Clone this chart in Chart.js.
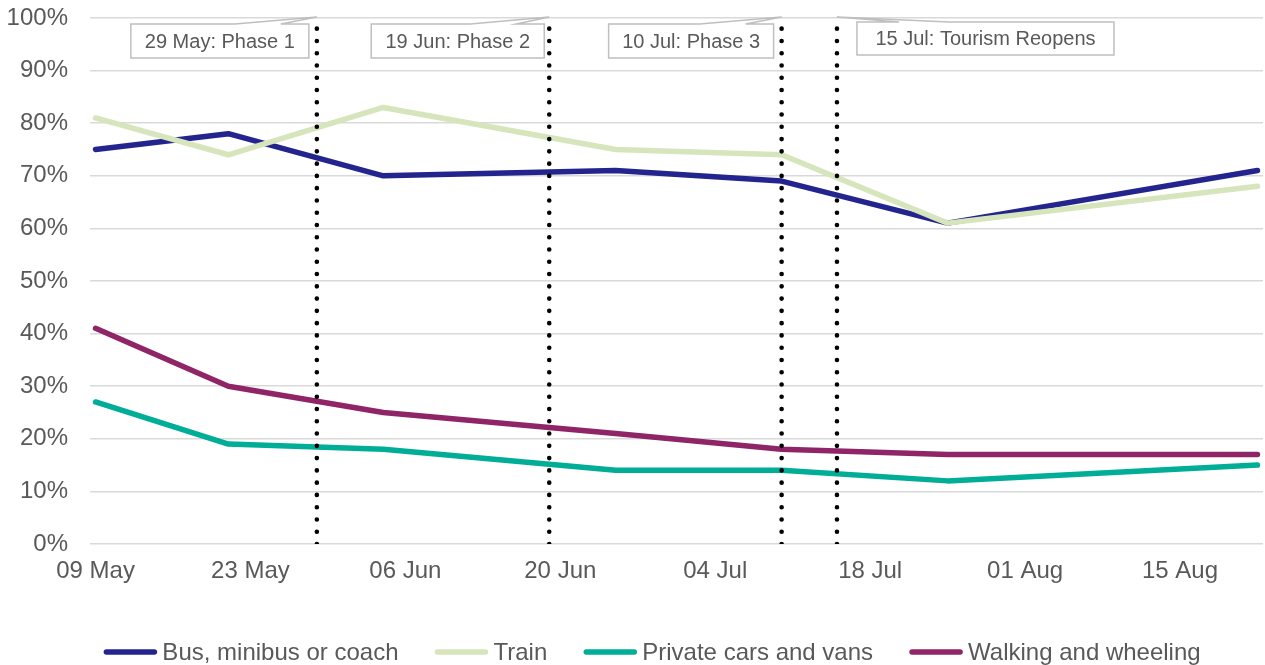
<!DOCTYPE html>
<html>
<head>
<meta charset="utf-8">
<script src="https://cdn.jsdelivr.net/npm/chart.js@4.4.1/dist/chart.umd.min.js"></script>
<style>
  html, body { margin: 0; padding: 0; background: #ffffff; overflow: hidden; }
  canvas { display: block; }
</style>
</head>
<body>
<canvas id="chart" width="1265" height="665"></canvas>
<script>
// Survey waves and share of pre-lockdown travel (%) by mode
const surveyDates = ['2020-05-09', '2020-05-21', '2020-06-04', '2020-06-25', '2020-07-10', '2020-07-25', '2020-08-22'];
const busMinibusCoach = [75, 78, 70, 71, 69, 61, 71];
const train = [81, 74, 83, 75, 74, 61, 68];
const privateCarsVans = [27, 19, 18, 14, 14, 12, 15];
const walkingWheeling = [41, 30, 25, 21, 18, 17, 17];

const seriesNames = ['Bus, minibus or coach', 'Train', 'Private cars and vans', 'Walking and wheeling'];
const seriesValues = [busMinibusCoach, train, privateCarsVans, walkingWheeling];
const seriesColours = ['#24248F', '#D7E5BC', '#00AD97', '#8F2467'];

// Route map milestones
const milestoneDates = ['2020-05-29', '2020-06-19', '2020-07-10', '2020-07-15'];
const milestoneLabels = ['29 May: Phase 1', '19 Jun: Phase 2', '10 Jul: Phase 3', '15 Jul: Tourism Reopens'];

// Date axis: one slot per day, first day to the day after the last
const tickDates = ['2020-05-09', '2020-05-23', '2020-06-06', '2020-06-20', '2020-07-04', '2020-07-18', '2020-08-01', '2020-08-15'];
const axisStart = '2020-05-09';
const axisEnd = '2020-08-23';
const yTicks = [0, 10, 20, 30, 40, 50, 60, 70, 80, 90, 100];

const FONT = '"Liberation Sans", Arial, Helvetica, sans-serif';
const TEXT = '#595959';
const MONTHS = ['Jan', 'Feb', 'Mar', 'Apr', 'May', 'Jun', 'Jul', 'Aug', 'Sep', 'Oct', 'Nov', 'Dec'];

const dayIndex = d => Math.round((Date.parse(d) - Date.parse(axisStart)) / 86400000);
const slotCentre = d => dayIndex(d) + 0.5;
const fmtDate = d => {
  const t = new Date(d + 'T00:00:00Z');
  return String(t.getUTCDate()).padStart(2, '0') + ' ' + MONTHS[t.getUTCMonth()];
};

const seriesSets = seriesNames.map((name, i) => ({
  label: name,
  data: surveyDates.map((d, j) => ({ x: slotCentre(d), y: seriesValues[i][j] })),
  borderColor: seriesColours[i],
  backgroundColor: seriesColours[i],
  borderWidth: 5.5,
  borderCapStyle: 'round',
  borderJoinStyle: 'round',
  pointRadius: 0,
  tension: 0,
  order: 10 - i
}));

const milestoneSets = milestoneDates.map(d => ({
  label: '',
  marker: true,
  data: [{ x: slotCentre(d), y: 0 }, { x: slotCentre(d), y: 100 }],
  borderColor: '#000000',
  borderWidth: 4.6,
  borderDash: [0, 12.27],
  borderCapStyle: 'round',
  pointRadius: 0,
  order: 0
}));

// Labelled callout boxes pointing at the top of each milestone line
const calloutLayout = [
  { side: 'left', gap: 8, width: 178, top: 24, height: 34 },
  { side: 'left', gap: 5, width: 173, top: 24, height: 34 },
  { side: 'left', gap: 8, width: 165, top: 24, height: 34 },
  { side: 'right', gap: 20, width: 257, top: 22, height: 33 }
];

const calloutPlugin = {
  id: 'milestoneCallouts',
  afterDraw(chart) {
    const { ctx } = chart;
    const x = chart.scales.x, y = chart.scales.y;
    ctx.save();
    ctx.font = '20px ' + FONT;
    milestoneDates.forEach((d, i) => {
      const L = calloutLayout[i];
      const tipX = x.getPixelForValue(slotCentre(d));
      const tipY = y.getPixelForValue(100) - 1;
      const left = L.side === 'left' ? tipX - L.gap - L.width : tipX + L.gap;
      const right = left + L.width;
      const top = L.top, bottom = L.top + L.height;
      let b1, b2;
      if (L.side === 'left') { b1 = right - 74; b2 = right - 28; }
      else { b1 = left + 42; b2 = left + 92; }
      ctx.beginPath();
      ctx.moveTo(left, top);
      ctx.lineTo(b1, top);
      ctx.lineTo(tipX, tipY);
      ctx.lineTo(b2, top);
      ctx.lineTo(right, top);
      ctx.lineTo(right, bottom);
      ctx.lineTo(left, bottom);
      ctx.closePath();
      ctx.fillStyle = '#ffffff';
      ctx.fill();
      ctx.strokeStyle = '#BFBFBF';
      ctx.lineWidth = 1.5;
      ctx.lineJoin = 'miter';
      ctx.stroke();
      ctx.fillStyle = TEXT;
      ctx.textAlign = 'center';
      ctx.textBaseline = 'middle';
      ctx.fillText(milestoneLabels[i], (left + right) / 2, (top + bottom) / 2 + 1);
    });
    ctx.restore();
  }
};

// Key along the bottom, line swatches with text
const keyPlugin = {
  id: 'lineKey',
  afterDraw(chart) {
    const { ctx } = chart;
    const items = chart.data.datasets.filter(ds => !ds.marker);
    const swatch = 54, textGap = 5, itemGap = 36, cy = 652, centreX = 652;
    ctx.save();
    ctx.font = '24px ' + FONT;
    const widths = items.map(ds => ctx.measureText(ds.label).width);
    const total = widths.reduce((s, w) => s + swatch + textGap + w, 0) + itemGap * (items.length - 1);
    let px = centreX - total / 2;
    items.forEach((ds, i) => {
      ctx.beginPath();
      ctx.moveTo(px + 3, cy);
      ctx.lineTo(px + swatch - 3, cy);
      ctx.strokeStyle = ds.borderColor;
      ctx.lineWidth = 5.5;
      ctx.lineCap = 'round';
      ctx.stroke();
      ctx.fillStyle = TEXT;
      ctx.textAlign = 'left';
      ctx.textBaseline = 'middle';
      ctx.fillText(ds.label, px + swatch + textGap, cy + 1);
      px += swatch + textGap + widths[i] + itemGap;
    });
    ctx.restore();
  }
};

Chart.defaults.font.family = FONT;
Chart.defaults.color = TEXT;

new Chart(document.getElementById('chart'), {
  type: 'line',
  data: { datasets: [...seriesSets, ...milestoneSets] },
  options: {
    responsive: false,
    animation: false,
    devicePixelRatio: 1,
    layout: { padding: { left: 0, right: 2, top: 18, bottom: 0 } },
    plugins: { legend: { display: false }, tooltip: { enabled: false } },
    scales: {
      x: {
        type: 'linear',
        min: 0,
        max: dayIndex(axisEnd),
        afterBuildTicks(scale) {
          scale.ticks = tickDates.map(d => ({ value: slotCentre(d) }));
        },
        afterFit(scale) {
          scale.height = 121;
          scale.paddingLeft = 0;
          scale.paddingRight = 0;
        },
        ticks: {
          autoSkip: false,
          maxRotation: 0,
          padding: 13,
          font: { size: 24 },
          color: TEXT,
          callback(value) {
            const d = tickDates.find(t => slotCentre(t) === value);
            return d ? fmtDate(d) : '';
          }
        },
        grid: { display: false, drawTicks: false },
        border: { display: false }
      },
      y: {
        min: 0,
        max: 100,
        afterBuildTicks(scale) {
          scale.ticks = yTicks.map(v => ({ value: v }));
        },
        afterFit(scale) {
          scale.width = 90;
          scale.paddingTop = 0;
          scale.paddingBottom = 0;
        },
        ticks: {
          padding: 22,
          font: { size: 24 },
          color: TEXT,
          callback: v => v + '%'
        },
        grid: { color: '#D9D9D9', lineWidth: 1.5, drawTicks: false },
        border: { display: false }
      }
    }
  },
  plugins: [calloutPlugin, keyPlugin]
});
</script>
</body>
</html>
